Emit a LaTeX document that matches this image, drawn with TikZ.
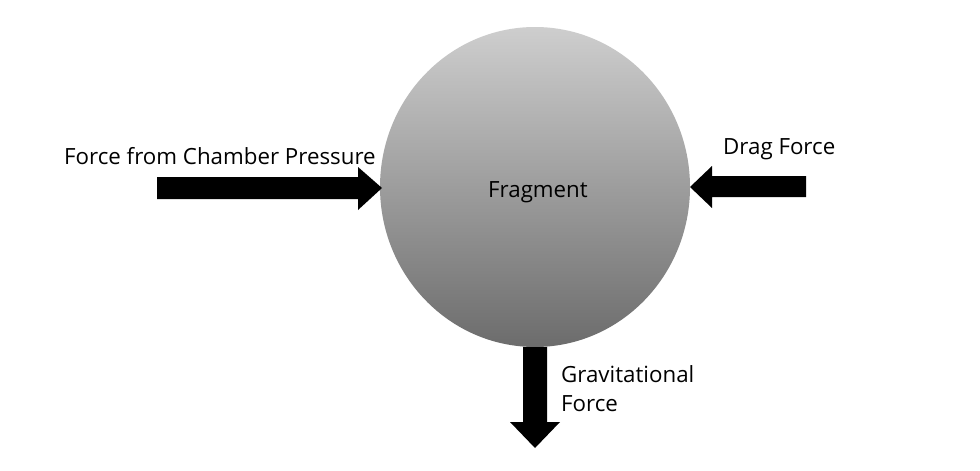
\documentclass[tikz,border=0pt]{standalone}
\usepackage{fontspec}
\setmainfont{Open Sans}
\usetikzlibrary{shapes.geometric}
\begin{document}
\begin{tikzpicture}[x=1pt,y=-1pt,
  lbl/.style={inner sep=0pt,anchor=base west,font=\fontsize{22.3}{29}\selectfont},
  force/.style={fill=black}]
\useasboundingbox (0,0) rectangle (980,471);
\fill[white] (0,0) rectangle (980,471);
% fragment
\node[ellipse,minimum width=310pt,minimum height=320pt,inner sep=0pt,
  top color={rgb,255:red,206;green,206;blue,206},
  bottom color={rgb,255:red,108;green,108;blue,108}] (frag) at (535,187) {};
\node[lbl] (fragtxt) at (488,197) {Fragment};
% left arrow (chamber pressure)
\fill[force] (157,177) -- (358,177) -- (358,167) -- (382,188) -- (358,210) -- (358,199) -- (157,199) -- cycle;
\node[lbl] (ltxt) at (64,164) {Force from Chamber Pressure};
% right arrow (drag)
\fill[force] (806,176) -- (712,176) -- (712,166) -- (690,187) -- (712,208) -- (712,197) -- (806,197) -- cycle;
\node[lbl] (rtxt) at (723,154) {Drag Force};
% down arrow (gravity)
\fill[force] (523,347) -- (547,347) -- (547,422) -- (560,422) -- (535,448) -- (510,422) -- (523,422) -- cycle;
\node[lbl] (gtxt1) at (561,382) {Gravitational};
\node[lbl] (gtxt2) at (561,411) {Force};
\end{tikzpicture}
\end{document}
